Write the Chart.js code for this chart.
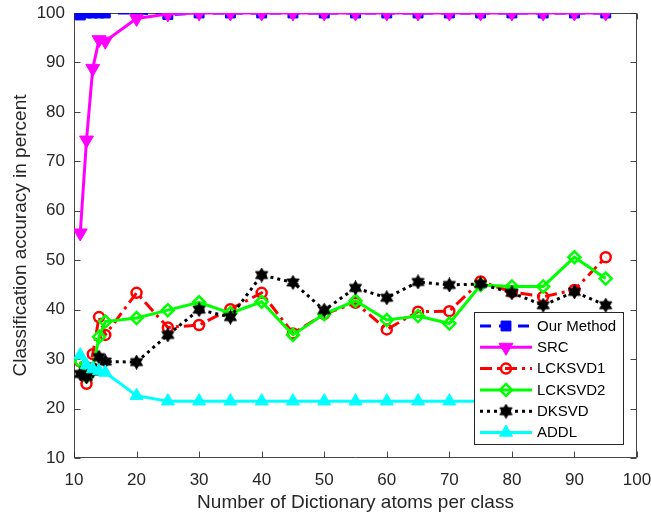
<!DOCTYPE html>
<html>
<head>
<meta charset="utf-8">
<script src="https://cdn.jsdelivr.net/npm/chart.js@4/dist/chart.umd.min.js"></script>
<style>
  html, body { margin: 0; padding: 0; background: #ffffff; }
  #wrap { width: 651px; height: 517px; }
</style>
</head>
<body>
<div id="wrap"><canvas id="c" width="651" height="517"></canvas></div>
<script>
// Dictionary sizes (atoms per class)
const atoms = [11, 12, 13, 14, 15, 20, 25, 30, 35, 40, 45, 50, 55, 60, 65, 70, 75, 80, 85, 90, 95];

// Classification accuracy (%) per method
const ourMethod = [99.6, 100, 100, 100, 100, 100, 99.7, 100, 100, 100, 100, 100, 100, 100, 100, 100, 100, 100, 100, 100, 100];
const src       = [55.5, 74.3, 88.8, 94.6, 94.3, 98.9, 99.8, 100, 100, 100, 100, 100, 100, 100, 100, 100, 100, 100, 100, 100, 100];
const lcksvd1   = [29.5, 25.0, 31.0, 38.5, 34.9, 43.4, 36.4, 36.9, 40.1, 43.4, 35.2, 39.1, 41.4, 36.0, 39.6, 39.7, 45.7, 43.6, 42.6, 44.0, 50.6];
const lcksvd2   = [29.5, 26.5, 28.0, 34.5, 37.6, 38.3, 39.9, 41.5, 39.3, 41.6, 34.9, 39.1, 41.8, 37.9, 38.7, 37.2, 45.0, 44.7, 44.7, 50.6, 46.3];
const dksvd     = [27.0, 26.4, 27.5, 30.4, 29.5, 29.4, 34.9, 40.0, 38.5, 47.0, 45.5, 39.9, 44.4, 42.4, 45.6, 45.0, 45.2, 43.4, 40.9, 43.6, 40.9];
const addl      = [30.8, 28.8, 28.0, 27.6, 27.3, 22.6, 21.5, 21.5, 21.5, 21.5, 21.5, 21.5, 21.5, 21.5, 21.5, 21.5, 21.5, 21.5, 21.5, 21.5, 21.5];

// Axis ticks
const xTicks = [10, 20, 30, 40, 50, 60, 70, 80, 90, 100];
const yTicks = [10, 20, 30, 40, 50, 60, 70, 80, 90, 100];

const FONT = '"Liberation Sans", Arial, Helvetica, sans-serif';
const AXIS_COLOR = '#262626';

// Filled six-pointed star marker
function makeHexagram(size, color) {
  const cv = document.createElement('canvas');
  cv.width = size; cv.height = size;
  const g = cv.getContext('2d');
  const c = size / 2, R = size / 2 - 0.5, r = R / Math.sqrt(3);
  g.beginPath();
  for (let i = 0; i < 12; i++) {
    const a = -Math.PI / 2 + i * Math.PI / 6;
    const rr = i % 2 === 0 ? R : r;
    const px = c + rr * Math.cos(a), py = c + rr * Math.sin(a);
    if (i === 0) g.moveTo(px, py); else g.lineTo(px, py);
  }
  g.closePath();
  g.fillStyle = color; g.fill();
  g.strokeStyle = color; g.lineWidth = 1; g.stroke();
  return cv;
}
const hexagram = makeHexagram(15, '#000000');

const pts = arr => atoms.map((a, i) => ({ x: a, y: arr[i] }));

const series = [
  { label: 'Our Method', data: ourMethod, color: '#0000ff', dash: [11, 8], style: 'rect', radius: 7, fill: '#0000ff', bw: 1, rot: 0 },
  { label: 'SRC',        data: src,       color: '#ff00ff', dash: [],      style: 'triangle', radius: 8, fill: '#ff00ff', bw: 1, rot: 180 },
  { label: 'LCKSVD1',    data: lcksvd1,   color: '#ff0000', dash: [12, 5, 3, 5], style: 'circle', radius: 5, fill: 'rgba(0,0,0,0)', bw: 2.5, rot: 0 },
  { label: 'LCKSVD2',    data: lcksvd2,   color: '#00ff00', dash: [],      style: 'rectRot', radius: 6, fill: 'rgba(0,0,0,0)', bw: 2.5, rot: 0 },
  { label: 'DKSVD',      data: dksvd,     color: '#000000', dash: [3, 4],  style: hexagram, radius: 7, fill: '#000000', bw: 0, rot: 0 },
  { label: 'ADDL',       data: addl,      color: '#00ffff', dash: [],      style: 'triangle', radius: 7.5, fill: '#00ffff', bw: 1, rot: 0 }
];

const datasets = series.map((s, i) => ({
  label: s.label,
  data: pts(s.data),
  borderColor: s.color,
  backgroundColor: s.color,
  borderWidth: 3,
  borderDash: s.dash,
  pointStyle: s.style,
  pointRadius: s.radius,
  pointRotation: s.rot,
  pointBackgroundColor: s.fill,
  pointBorderColor: s.color,
  pointBorderWidth: s.bw,
  tension: 0,
  order: series.length - i
}));

// Axes box with inward ticks on all four sides
const boxPlugin = {
  id: 'boxTicks',
  beforeDatasetsDraw(chart) {
    const { ctx, chartArea: a, scales } = chart;
    ctx.save();
    ctx.strokeStyle = AXIS_COLOR;
    ctx.globalAlpha = 0.85;
    ctx.lineWidth = 1;
    const L = Math.round(a.left) + 0.5, R = Math.round(a.right) - 0.5;
    const T = Math.round(a.top) + 0.5, B = Math.round(a.bottom) - 0.5;
    ctx.beginPath();
    ctx.rect(L, T, R - L, B - T);
    const tl = 6;
    xTicks.forEach(v => {
      const x = Math.round(scales.x.getPixelForValue(v)) + 0.5;
      ctx.moveTo(x, B); ctx.lineTo(x, B - tl);
      ctx.moveTo(x, T); ctx.lineTo(x, T + tl);
    });
    yTicks.forEach(v => {
      const y = Math.round(scales.y.getPixelForValue(v)) + 0.5;
      ctx.moveTo(L, y); ctx.lineTo(L + tl, y);
      ctx.moveTo(R, y); ctx.lineTo(R - tl, y);
    });
    ctx.stroke();
    ctx.restore();
  }
};

// Boxed legend inside the plot, lower right
const legendPlugin = {
  id: 'innerLegend',
  afterDatasetsDraw(chart) {
    const { ctx, chartArea: a } = chart;
    const bx = a.right - 163, by = a.bottom - 146, bw = 149, bh = 132;
    ctx.save();
    ctx.fillStyle = '#ffffff';
    ctx.fillRect(bx, by, bw, bh);
    ctx.strokeStyle = AXIS_COLOR;
    ctx.lineWidth = 1;
    ctx.strokeRect(Math.round(bx) + 0.5, Math.round(by) + 0.5, bw, bh);
    const row0 = by + 14, step = 21.3;
    const x0 = bx + 6, x1 = bx + 58, xm = bx + 32, xt = bx + 63;
    ctx.font = '15px ' + FONT;
    ctx.textBaseline = 'middle';
    ctx.textAlign = 'left';
    chart.data.datasets.forEach((d, i) => {
      const y = row0 + i * step;
      ctx.save();
      ctx.strokeStyle = d.borderColor;
      ctx.lineWidth = d.borderWidth;
      ctx.setLineDash(d.borderDash || []);
      ctx.beginPath();
      ctx.moveTo(x0, y); ctx.lineTo(x1, y);
      ctx.stroke();
      ctx.setLineDash([]);
      ctx.fillStyle = d.pointBackgroundColor;
      ctx.strokeStyle = d.pointBorderColor;
      ctx.lineWidth = d.pointBorderWidth;
      if (Chart.helpers && Chart.helpers.drawPoint) {
        Chart.helpers.drawPoint(ctx, {
          pointStyle: d.pointStyle,
          rotation: d.pointRotation,
          radius: d.pointRadius,
          borderWidth: d.pointBorderWidth
        }, xm, y);
      }
      ctx.restore();
      ctx.fillStyle = '#000000';
      ctx.fillText(d.label, xt, y + 0.5);
    });
    ctx.restore();
  }
};

new Chart(document.getElementById('c'), {
  type: 'line',
  data: { datasets },
  options: {
    responsive: false,
    animation: false,
    devicePixelRatio: 1,
    layout: { padding: { top: 13, right: 14, left: 0, bottom: 0 } },
    plugins: { legend: { display: false }, tooltip: { enabled: false } },
    scales: {
      x: {
        type: 'linear', min: 10, max: 100,
        afterFit(s) { s.height = 59; s.paddingLeft = 0; s.paddingRight = 0; },
        afterBuildTicks(s) { s.ticks = xTicks.map(v => ({ value: v })); },
        grid: { display: false, drawTicks: false },
        border: { display: false },
        ticks: { color: AXIS_COLOR, font: { family: FONT, size: 17 }, padding: 12, maxRotation: 0 },
        title: { display: true, text: 'Number of Dictionary atoms per class', color: AXIS_COLOR,
                 font: { family: FONT, size: 19 }, padding: { top: 0, bottom: 3 } }
      },
      y: {
        type: 'linear', min: 10, max: 100,
        afterFit(s) { s.width = 74; s.paddingTop = 0; s.paddingBottom = 0; },
        afterBuildTicks(s) { s.ticks = yTicks.map(v => ({ value: v })); },
        grid: { display: false, drawTicks: false },
        border: { display: false },
        ticks: { color: AXIS_COLOR, font: { family: FONT, size: 17 }, padding: 9 },
        title: { display: true, text: 'Classification accuracy in percent', color: AXIS_COLOR,
                 font: { family: FONT, size: 19 }, padding: { top: 9, bottom: 0 } }
      }
    }
  },
  plugins: [boxPlugin, legendPlugin]
});
</script>
</body>
</html>
